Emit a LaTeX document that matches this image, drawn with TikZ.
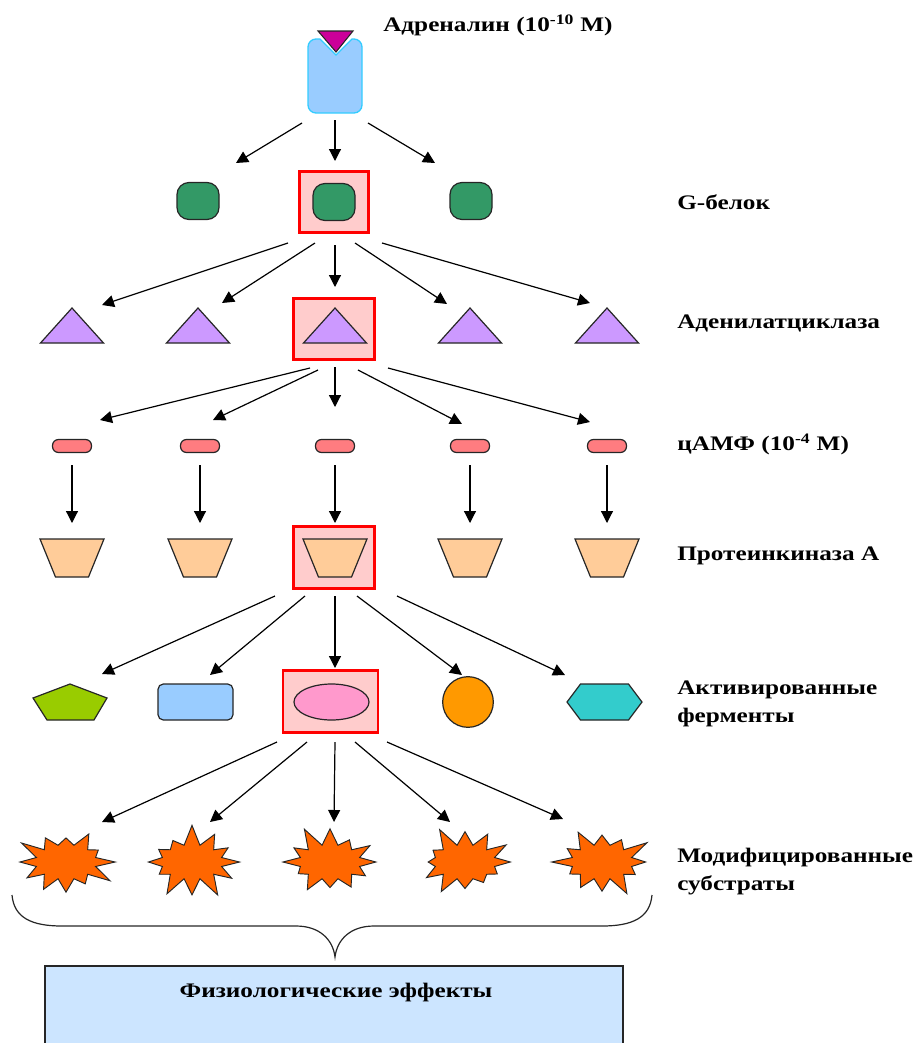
\documentclass[tikz,border=0pt]{standalone}
\usepackage{fontspec}
\setmainfont{Liberation Serif}[FakeStretch=1.22]
\usetikzlibrary{arrows.meta,shapes.geometric,shapes.symbols}
\definecolor{recfill}{HTML}{99CCFF}
\definecolor{recline}{HTML}{33CCFF}
\definecolor{ligandfill}{HTML}{CC0099}
\definecolor{gprotfill}{HTML}{339966}
\definecolor{hlfill}{HTML}{FFCCCC}
\definecolor{hlline}{HTML}{FF0000}
\definecolor{adcycfill}{HTML}{CC99FF}
\definecolor{campfill}{HTML}{FF7C80}
\definecolor{pkafill}{HTML}{FFCC99}
\definecolor{pentfill}{HTML}{99CC00}
\definecolor{ovalfill}{HTML}{FF99CC}
\definecolor{roundfill}{HTML}{FF9900}
\definecolor{hexfill}{HTML}{33CCCC}
\definecolor{substrfill}{HTML}{FF6600}
\definecolor{effectfill}{HTML}{CCE5FF}
\definecolor{outline}{HTML}{262626}

\begin{document}
\begin{tikzpicture}[
  x=0.75pt,
  y=-0.75pt,
  every node/.style={inner sep=0pt},
  lbl/.style={font=\fontsize{15.5}{21}\selectfont\bfseries, anchor=west, align=left},
  arr/.style={line width=0.9pt, -{Triangle[length=9pt, width=9pt]}},
  outl/.style={draw=outline, line width=0.9pt},
  hlbox/.style={draw=hlline, fill=hlfill, line width=2.2pt, minimum height=46pt},
  gprot/.style={outl, fill=gprotfill, rounded corners=9pt, minimum width=31.5pt, minimum height=27.75pt},
  adcyc/.style={outl, fill=adcycfill, line join=miter},
  campill/.style={outl, fill=campfill, rounded corners=4.5pt, minimum width=29.25pt, minimum height=9.75pt},
  pkinase/.style={outl, fill=pkafill, line join=miter},
  enzrect/.style={outl, fill=recfill, rounded corners=4pt, minimum width=56.25pt, minimum height=27pt},
  enzoval/.style={outl, fill=ovalfill, ellipse, minimum width=56.25pt, minimum height=27pt},
  enzround/.style={outl, fill=roundfill, circle, minimum size=38pt},
  substr/.style={outl, line width=0.7pt, fill=substrfill, starburst, starburst points=12,
    starburst point height=16pt, minimum width=78pt, minimum height=58pt},
  effbox/.style={draw=outline, line width=1pt, fill=effectfill, minimum width=433.5pt, minimum height=63pt},
  bracepath/.style={draw=outline, line width=0.9pt}
]
  \useasboundingbox (0,0) rectangle (919,1043);

  % ---- receptor with adrenalin ------------------------------------------
  \filldraw[fill=recfill, draw=recline, line width=1pt]
    (336,55) -- (320,39) [rounded corners=6pt] -- (308,39) -- (308,113)
    -- (362,113) -- (362,39) [sharp corners] -- (352,39) -- cycle;
  \filldraw[fill=ligandfill, draw=outline, line width=0.8pt]
    (318,31) -- (353,31) -- (336,52) -- cycle;
  \coordinate (rec) at (335,76);
  \node[lbl] (lblAdr) at (383,25) {Адреналин (10\textsuperscript{-10} M)};

  % ---- G proteins ---------------------------------------------------------
  \node[hlbox, minimum width=51.75pt] (hlG) at (334,202) {};
  \node[gprot] (g1) at (198,201) {};
  \node[gprot] (g2) at (hlG) {};
  \node[gprot] (g3) at (471,201) {};
  \node[lbl] (lblG) at (677,202) {G-белок};

  \draw[arr] ([shift={(-33,47)}]rec.center) -- ([shift={(38,-38)}]g1.center);
  \draw[arr] ([shift={(0,44)}]rec.center) -- ([shift={(1,-41)}]hlG.center);
  \draw[arr] ([shift={(33,47)}]rec.center) -- ([shift={(-36,-38)}]g3.center);

  % ---- adenylate cyclase ------------------------------------------------
  \node[hlbox, minimum width=60.75pt] (hlA) at (334,329) {};
  \foreach \i/\x in {1/72,2/198,3/335,4/470,5/607} {
    \draw[adcyc] ({\x-31.5},343) -- (\x,308) -- ({\x+31.5},343) -- cycle;
    \coordinate (ac\i) at (\x,326);
  }
  \node[lbl] (lblA) at (677,323) {Аденилатциклаза};

  \foreach \dx/\dy/\t/\ex/\ey in {-46/41/ac1/30/-21, -19/41/ac2/24/-23, 1/43/hlA/1/-42,
                                  21/41/ac4/-23/-22, 48/41/ac5/-17/-23}
    \draw[arr] ([shift={(\dx,\dy)}]hlG.center) -- ([shift={(\ex,\ey)}]\t.center);

  % ---- cAMP -----------------------------------------------------------------
  \foreach \i/\x in {1/72,2/200,3/335,4/470,5/607}
    \node[campill] (cam\i) at (\x,446) {};
  \node[lbl] (lblC) at (677,444) {цАМФ (10\textsuperscript{-4} M)};

  \foreach \dx/\dy/\t/\ex/\ey in {-24/39/cam1/28/-26, -16/41/cam2/13/-26, 1/38/cam3/0/-39,
                                  24/41/cam4/-8/-22, 54/39/cam5/-17/-24}
    \draw[arr] ([shift={(\dx,\dy)}]hlA.center) -- ([shift={(\ex,\ey)}]\t.center);

  % ---- protein kinase A -------------------------------------------------
  \node[hlbox, minimum width=60.75pt] (hlP) at (334,557.5) {};
  \foreach \i/\x in {1/72,2/200,3/335,4/470,5/607} {
    \draw[pkinase] ({\x-32},539) -- ({\x+32},539) -- ({\x+16.5},577) -- ({\x-16.5},577) -- cycle;
    \coordinate (pk\i) at (\x,558);
  }
  \node[lbl] (lblP) at (677,556) {Протеинкиназа А};

  \foreach \i in {1,...,5}
    \draw[arr] ([shift={(0,19)}]cam\i.center) -- ([shift={(0,-35)}]pk\i.center);

  % ---- activated enzymes ------------------------------------------------
  \node[hlbox, minimum width=71.25pt] (hlE) at (330.5,701.5) {};
  \filldraw[outl, fill=pentfill] (70,684) -- (107,698) -- (94,720) -- (47,720) -- (33,698) -- cycle;
  \coordinate (en1) at (70,702);
  \node[enzrect] (en2) at (195.5,702) {};
  \node[enzoval] (en3) at (331.5,702) {};
  \node[enzround] (en4) at (468,702) {};
  \filldraw[outl, fill=hexfill] (567,702) -- (580.5,684) -- (628.5,684) -- (642,702)
    -- (628.5,720) -- (580.5,720) -- cycle;
  \coordinate (en5) at (604.5,702);
  \node[lbl] (lblE) at (677,704) {Активированные\\ферменты};

  \foreach \dx/\dy/\t/\ex/\ey in {-59/38.5/en1/32/-28, -29/38.5/en2/14.5/-27, 1/38.5/hlE/4.5/-33.5,
                                  23/38.5/en4/-6/-27, 63/38.5/en5/-39.5/-27}
    \draw[arr] ([shift={(\dx,\dy)}]hlP.center) -- ([shift={(\ex,\ey)}]\t.center);

  % ---- modified substrates ------------------------------------------------
  \foreach \i/\x/\s in {1/66/3,2/192/7,3/330/11,4/465/5,5/602/9}
    \node[substr, random starburst=\s] (st\i) at (\x,862) {};
  \node[lbl] (lblS) at (677,872) {Модифицированные\\субстраты};

  \foreach \dx/\dy/\t/\ex/\ey in {-53.5/40.5/st1/36/-40, -23.5/40.5/st2/18/-40, 4.5/40.5/st3/4/-40,
                                  24.5/40.5/st4/-15/-40, 56.5/40.5/st5/-39/-43}
    \draw[arr] ([shift={(\dx,\dy)}]hlE.center) -- ([shift={(\ex,\ey)}]\t.center);

  % ---- brace and physiological effects ----------------------------------
  \draw[bracepath] (12,895) .. controls (14,918) and (32,926) .. (62,926) -- (296,926)
    .. controls (320,926) and (333,940) .. (335,957)
    .. controls (337,940) and (350,926) .. (374,926) -- (602,926)
    .. controls (632,926) and (650,918) .. (652,895);
  \node[effbox] (eff) at (334,1008) {};
  \node[lbl, anchor=center] (efftxt) at (336,993) {Физиологические эффекты};
\end{tikzpicture}
\end{document}
